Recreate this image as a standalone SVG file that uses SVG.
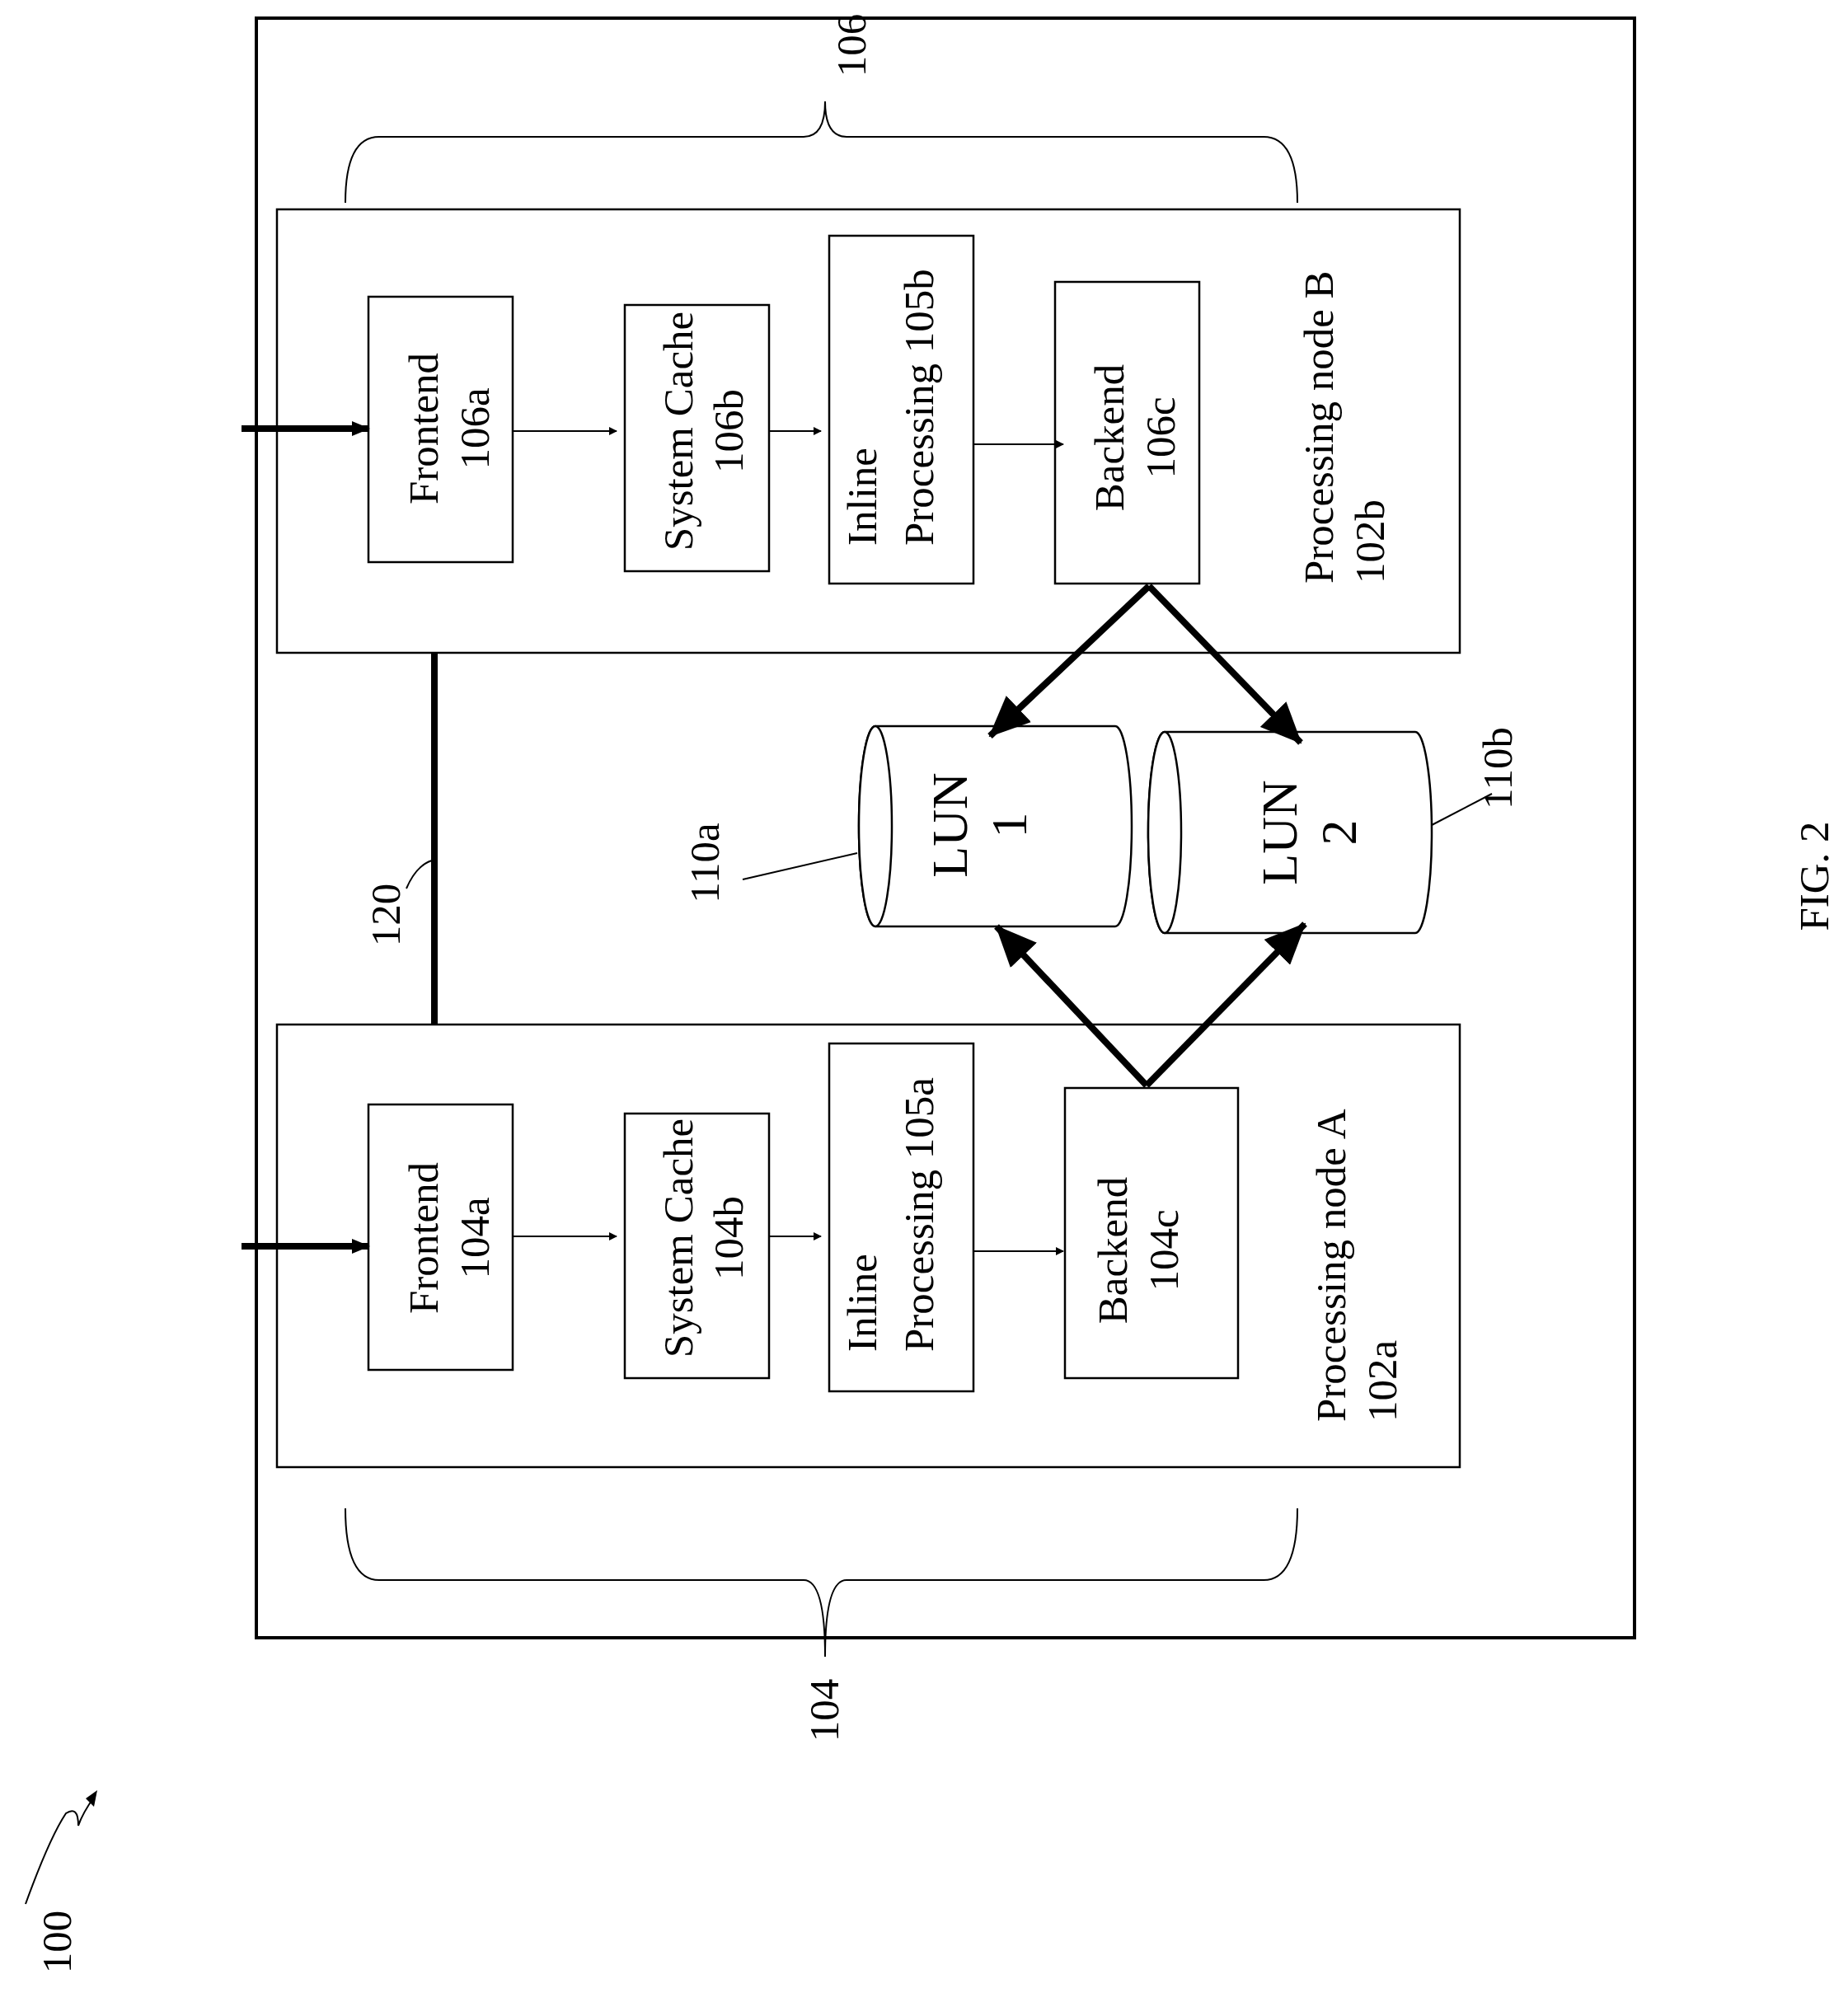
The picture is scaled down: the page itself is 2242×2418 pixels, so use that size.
<svg xmlns="http://www.w3.org/2000/svg" width="2242" height="2418" viewBox="0 0 2242 2418">
<defs>
<marker id="sa" markerWidth="10" markerHeight="10" refX="9" refY="5" orient="auto" markerUnits="userSpaceOnUse" viewBox="0 0 10 10"><path d="M0,0 L10,5 L0,10 z" fill="#000"/></marker>
<marker id="sm" markerWidth="22" markerHeight="18" refX="20" refY="9" orient="auto" markerUnits="userSpaceOnUse" viewBox="0 0 22 18"><path d="M0,0 L22,9 L0,18 z" fill="#000"/></marker>
<marker id="bg" markerWidth="50" markerHeight="44" refX="48" refY="22" orient="auto" markerUnits="userSpaceOnUse" viewBox="0 0 50 44"><path d="M0,0 L50,22 L0,44 z" fill="#000"/></marker>
</defs>
<style>
text{font-family:"Liberation Serif","Times New Roman",serif;font-size:51px;fill:#000}
.b{fill:#fff;stroke:#000;stroke-width:2.5}
.thin{stroke:#000;stroke-width:2;fill:none}
.thick{stroke:#000;stroke-width:8;fill:none}
</style>
<rect x="311" y="22" width="1672" height="1965" fill="none" stroke="#000" stroke-width="4"/>
<g id="nodeB"><rect class="b" x="336" y="254" width="1435" height="538"/>
<text transform="translate(1617,708) rotate(-90)">Processing node B</text><text transform="translate(1679,708) rotate(-90)">102b</text></g>
<g id="nodeA"><rect class="b" x="336" y="1243" width="1435" height="537"/>
<text transform="translate(1632,1725) rotate(-90)">Processing node A</text><text transform="translate(1694,1725) rotate(-90)">102a</text></g>
<g id="fe106a"><rect class="b" x="447" y="360" width="175" height="322"/><text text-anchor="middle" transform="translate(531,520) rotate(-90)">Frontend</text><text text-anchor="middle" transform="translate(593,520) rotate(-90)">106a</text></g>
<g id="sc106b"><rect class="b" x="758" y="370" width="175" height="323"/><text text-anchor="middle" transform="translate(840,523) rotate(-90)">System Cache</text><text text-anchor="middle" transform="translate(901,523) rotate(-90)">106b</text></g>
<g id="ip105b"><rect class="b" x="1006" y="286" width="175" height="422"/><text transform="translate(1063,662) rotate(-90)">Inline</text><text transform="translate(1132,662) rotate(-90)">Processing 105b</text></g>
<g id="be106c"><rect class="b" x="1280" y="342" width="175" height="366"/><text text-anchor="middle" transform="translate(1363,531) rotate(-90)">Backend</text><text text-anchor="middle" transform="translate(1425,531) rotate(-90)">106c</text></g>
<g id="fe104a"><rect class="b" x="447" y="1340" width="175" height="322"/><text text-anchor="middle" transform="translate(531,1502) rotate(-90)">Frontend</text><text text-anchor="middle" transform="translate(593,1502) rotate(-90)">104a</text></g>
<g id="sc104b"><rect class="b" x="758" y="1351" width="175" height="321"/><text text-anchor="middle" transform="translate(840,1502) rotate(-90)">System Cache</text><text text-anchor="middle" transform="translate(901,1502) rotate(-90)">104b</text></g>
<g id="ip105a"><rect class="b" x="1006" y="1266" width="175" height="422"/><text transform="translate(1063,1640) rotate(-90)">Inline</text><text transform="translate(1132,1640) rotate(-90)">Processing 105a</text></g>
<g id="be104c"><rect class="b" x="1292" y="1320" width="210" height="352"/><text text-anchor="middle" transform="translate(1367,1517) rotate(-90)">Backend</text><text text-anchor="middle" transform="translate(1429,1517) rotate(-90)">104c</text></g>
<g id="lun1"><path class="b" d="M1062,881 L1353,881 A20,121.5 0 0 1 1353,1124 L1062,1124 A20,121.5 0 0 1 1062,881 Z"/><ellipse class="b" cx="1062" cy="1002.5" rx="20" ry="121.5"/>
<text text-anchor="middle" transform="translate(1173,1001) rotate(-90)" style="font-size:62px">LUN</text><text text-anchor="middle" transform="translate(1245,1001) rotate(-90)" style="font-size:62px">1</text></g>
<g id="lun2"><path class="b" d="M1413,888 L1717,888 A20,122 0 0 1 1717,1132 L1413,1132 A20,122 0 0 1 1413,888 Z"/><ellipse class="b" cx="1413" cy="1010" rx="20" ry="122"/>
<text text-anchor="middle" transform="translate(1573,1010) rotate(-90)" style="font-size:62px">LUN</text><text text-anchor="middle" transform="translate(1645,1010) rotate(-90)" style="font-size:62px">2</text></g>
<g id="connectors">
<line class="thick" x1="293" y1="520" x2="447" y2="520" marker-end="url(#sm)"/>
<line class="thick" x1="293" y1="1512" x2="447" y2="1512" marker-end="url(#sm)"/>
<line class="thin" x1="622" y1="523" x2="748" y2="523" marker-end="url(#sa)"/>
<line class="thin" x1="933" y1="523" x2="996" y2="523" marker-end="url(#sa)"/>
<line class="thin" x1="1181" y1="539" x2="1290" y2="539" marker-end="url(#sa)"/>
<line class="thin" x1="622" y1="1500" x2="748" y2="1500" marker-end="url(#sa)"/>
<line class="thin" x1="933" y1="1500" x2="996" y2="1500" marker-end="url(#sa)"/>
<line class="thin" x1="1181" y1="1518" x2="1290" y2="1518" marker-end="url(#sa)"/>
<line class="thick" x1="527" y1="792" x2="527" y2="1243"/>
<line class="thick" x1="1394" y1="711" x2="1201" y2="893" marker-end="url(#bg)"/>
<line class="thick" x1="1394" y1="711" x2="1578" y2="901" marker-end="url(#bg)"/>
<line class="thick" x1="1391" y1="1317" x2="1209" y2="1124" marker-end="url(#bg)"/>
<line class="thick" x1="1391" y1="1317" x2="1583" y2="1121" marker-end="url(#bg)"/>
<path class="thin" d="M493,1078 Q505,1050 524,1044"/>
<line class="thin" x1="901" y1="1067" x2="1040" y2="1035"/>
<line class="thin" x1="1737" y1="1001" x2="1810" y2="963"/>
<path class="thin" d="M419,246 Q419,166 460,166 L975,166 Q1001,166 1001,123 Q1001,166 1027,166 L1533,166 Q1574,166 1574,246"/>
<path class="thin" d="M419,1830 Q419,1917 460,1917 L975,1917 Q1001,1917 1001,2010 Q1001,1917 1027,1917 L1533,1917 Q1574,1917 1574,1830"/>
<path class="thin" d="M31,2310 Q60,2230 80,2200 Q95,2190 95,2215 Q100,2200 115,2179" />
<path d="M104,2182 L118,2172 L114,2192 z" fill="#000"/>
</g>
<text text-anchor="middle" transform="translate(485,1110) rotate(-90)">120</text>
<text text-anchor="middle" transform="translate(872,1047) rotate(-90)">110a</text>
<text text-anchor="middle" transform="translate(1834,932) rotate(-90)">110b</text>
<text text-anchor="middle" transform="translate(1050,55) rotate(-90)">106</text>
<text text-anchor="middle" transform="translate(1017,2075) rotate(-90)">104</text>
<text text-anchor="middle" transform="translate(86,2356) rotate(-90)">100</text>
<text text-anchor="middle" transform="translate(2218,1063) rotate(-90)">FIG. 2</text>
</svg>
